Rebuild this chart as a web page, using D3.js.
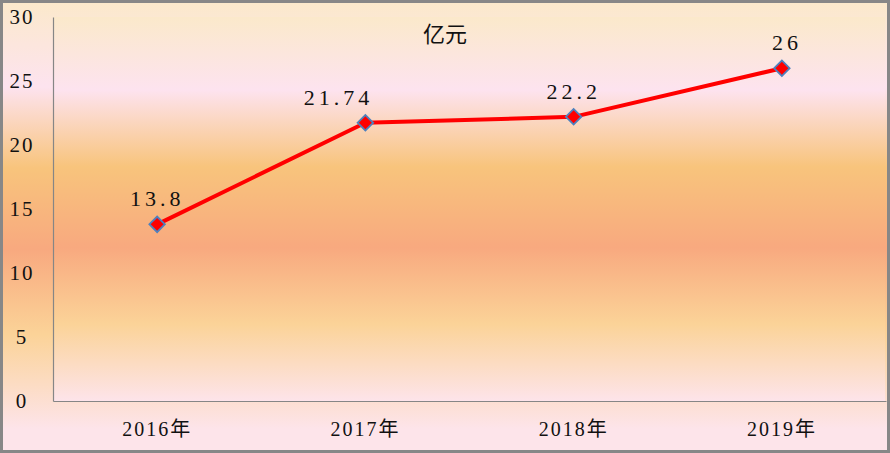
<!DOCTYPE html>
<html>
<head>
<meta charset="utf-8">
<script src="https://cdn.jsdelivr.net/npm/d3@7"></script>
<style>
html,body{margin:0;padding:0;background:#fff;}
svg{display:block;}
</style>
</head>
<body>
<svg id="chart" width="890" height="453"></svg>
<script>
const categories = ["2016年", "2017年", "2018年", "2019年"];
const values = [13.8, 21.74, 22.2, 26];
const valueLabels = ["13.8", "21.74", "22.2", "26"];
const labelShift = [0, -27, 0, 5];
const yTicks = [0, 5, 10, 15, 20, 25, 30];
const unitLabel = "亿元";

const W = 890, H = 453;
const m = {left: 53, right: 4, top: 17, bottom: 52};
const svg = d3.select("#chart");
const defs = svg.append("defs");

function grad(id, stops) {
  const g = defs.append("linearGradient").attr("id", id)
    .attr("x1", 0).attr("y1", 0).attr("x2", 0).attr("y2", 1);
  stops.forEach(s => g.append("stop").attr("offset", s[0]).attr("stop-color", s[1]));
}
grad("outerG", [[0, "#fbe9cb"], [0.19, "#fde3ef"], [0.37, "#f8c47c"], [0.55, "#f8a97f"], [0.74, "#fbd398"], [0.95, "#fde4ea"], [1, "#fde4ea"]]);
grad("plotG", [[0, "#fbe9cb"], [0.19, "#fde3ef"], [0.39, "#f8c47c"], [0.6, "#f8a97f"], [0.8, "#fbd398"], [1, "#fde4ea"]]);

svg.append("rect").attr("x", 1.5).attr("y", 1.5).attr("width", W - 3).attr("height", H - 3)
  .attr("fill", "url(#outerG)").attr("stroke", "#878787").attr("stroke-width", 3);

const x = d3.scaleBand().domain(categories).range([m.left, W - m.right]).padding(0);
const y = d3.scaleLinear().domain([0, 30]).range([H - m.bottom, m.top]);

svg.append("rect").attr("x", m.left).attr("y", m.top)
  .attr("width", W - m.right - m.left - 1).attr("height", H - m.bottom - m.top)
  .attr("fill", "url(#plotG)");

// axes
const yAxis = svg.append("g").attr("transform", `translate(${m.left},0)`)
  .call(d3.axisLeft(y).tickValues(yTicks).tickSize(0).tickPadding(20));
yAxis.select(".domain").attr("stroke", "#868686").attr("stroke-width", 1.2);
yAxis.selectAll("text").attr("font-family", "Liberation Serif, serif").attr("font-size", 21)
  .attr("fill", "#111").attr("letter-spacing", 2).attr("text-anchor", "middle").attr("dx", -11);

const xAxis = svg.append("g").attr("transform", `translate(0,${H - m.bottom})`)
  .call(d3.axisBottom(x).tickSize(0).tickPadding(21));
xAxis.select(".domain").attr("stroke", "#868686").attr("stroke-width", 1.2);
xAxis.selectAll("text").attr("font-family", "Liberation Serif, 'Noto Sans CJK SC', serif").attr("font-size", 20)
  .attr("fill", "#111").attr("letter-spacing", 2);

// unit label
svg.append("text").attr("x", 445).attr("y", 42).attr("text-anchor", "middle")
  .attr("font-family", "'Noto Sans CJK SC', sans-serif").attr("font-size", 22).attr("fill", "#111")
  .text(unitLabel);

const cx = (d, i) => x(categories[i]) + x.bandwidth() / 2;
const line = d3.line().x((d, i) => cx(d, i)).y(d => y(d));
svg.append("path").datum(values).attr("d", line)
  .attr("fill", "none").attr("stroke", "#ff0000").attr("stroke-width", 4).attr("stroke-linejoin", "round");

svg.selectAll(".pt").data(values).enter().append("path")
  .attr("class", "pt")
  .attr("d", d3.symbol().type(d3.symbolSquare).size(120))
  .attr("transform", (d, i) => `translate(${cx(d, i)},${y(d)}) rotate(45)`)
  .attr("fill", "#ff0000").attr("stroke", "#4f81bd").attr("stroke-width", 1.8);

svg.selectAll(".lbl").data(values).enter().append("text")
  .attr("class", "lbl")
  .attr("x", (d, i) => cx(d, i) + labelShift[i])
  .attr("y", d => y(d) - 18)
  .attr("text-anchor", "middle")
  .attr("font-family", "Liberation Serif, serif").attr("font-size", 22).attr("fill", "#111")
  .attr("letter-spacing", 4)
  .text((d, i) => valueLabels[i]);
</script>
</body>
</html>
